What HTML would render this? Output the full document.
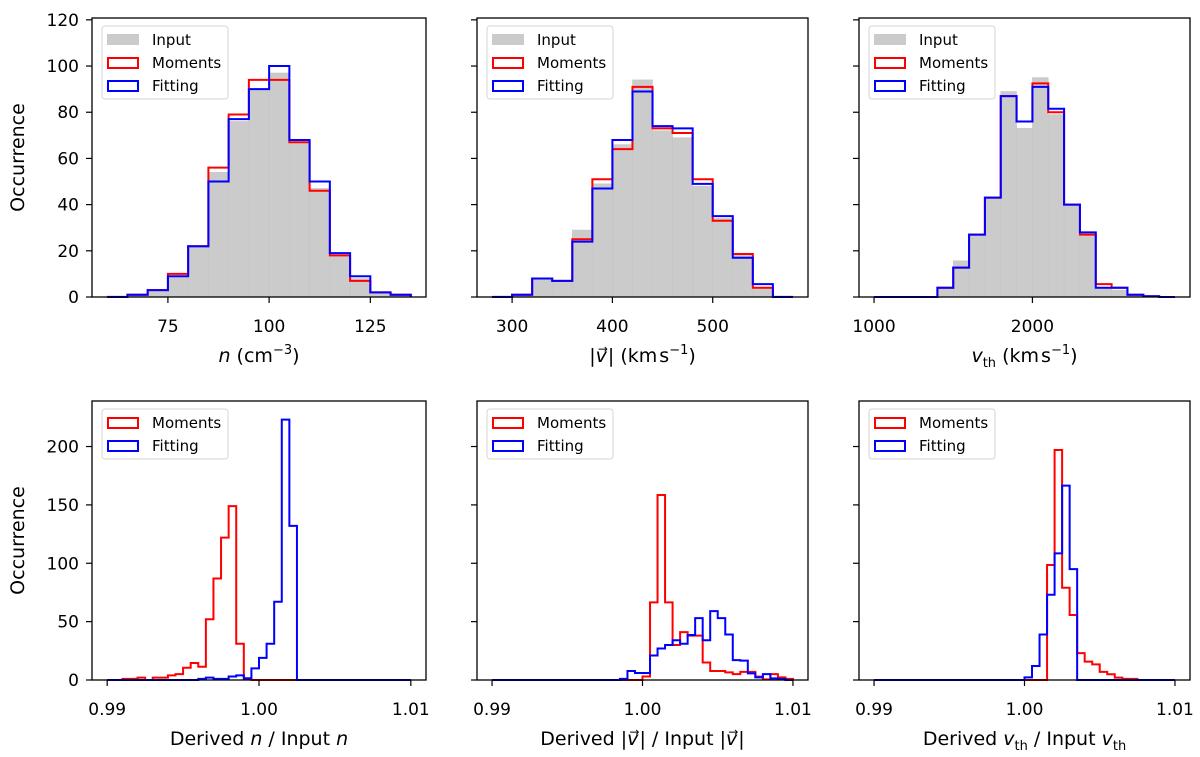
<!DOCTYPE html>
<html><head><meta charset="utf-8"><style>
html,body{margin:0;padding:0;background:#fff;}
svg{display:block;font-family:"DejaVu Sans","Liberation Sans",sans-serif;}
</style></head><body>
<svg id="fig" width="1200" height="757" viewBox="0 0 1200 757" xmlns="http://www.w3.org/2000/svg"></svg>
<script>
// ---------- data ----------
const nInput   = [0.5,1,3,9,22,54,76,90,97,67,47,18,8,2,1];
const nMoments = [0,1,3,10,22,56,79,94,94,67,46,18,7,2,1];
const nFitting = [0,1,3,9,22,50,77,90,100,68,50,19,9,2,1];
const vInput   = [0.5,1,8,7,29,49,66,94,72,69,48,34,18,4,0.5];
const vMoments = [0,1,8,7,25,51,64,91,73,71,51,33,18.6,4,0];
const vFitting = [0,1,8,7,24,47,68,89,74,73,49,35,17,5.6,0];
const tInput   = [0,0,0,0,4,15.7,27,43,89,73,95,79,40,27,4,3,1,0.3,0];
const tMoments = [0,0,0,0,4,12.7,27,43,87,76,92.5,80,40,27,5.6,4,1,0.3,0];
const tFitting = [0,0,0,0,4,12.7,27,43,87,76,91,81.5,40,28,4,4,1,0.3,0];
const rnMoments = [0,0,1,1,2,0,2,2,4,5,10.5,14.6,11.4,52,87,122,149,31,0.5,0,0,0,0,0,0,0,0,0,0,0,0,0,0,0,0,0,0,0,0,0];
const rnFitting = [0,0,0,0,0,0,0,0,0,0,0,0,1,2,1,1,3,4,1.5,10,19,31,67,223,132,0,0,0,0,0,0,0,0,0,0,0,0,0,0,0];
const rvMoments = [0,0,0,0,0,0,0,0,0,0,0,0,0,0,0,0,0,0,0,0,3,66.5,158.5,66.5,30,41,38,38,15,7.7,7.7,6.5,5,7,7,2.9,0.5,5,2.3,1];
const rvFitting = [0,0,0,0,0,0,0,0,0,0,0,0,0,0,0,0,0,1,7.7,6,6,21,27,30,34,31,38.5,53,34,59,53,39,17,16.6,5.7,2.3,5,1.4,1,0];
const rtMoments = [0,0,0,0,0,0,0,0,0,0,0,0,0,0,0,0,0,0,0,0,0,0,0,98.5,197,79,55.7,23,15.7,13.4,7,4.9,2,1,1,0,0,0,0,0];
const rtFitting = [0,0,0,0,0,0,0,0,0,0,0,0,0,0,0,0,0,0,0,0,2.3,12,39,73,108.5,166.5,95,0,0,0,0,0,0,0,0,0,0,0,0,0];
const topYTicks = [0,20,40,60,80,100,120];
const botYTicks = [0,50,100,150,200];
const nXTicks = [75,100,125];
const vXTicks = [300,400,500];
const tXTicks = [1000,2000];
const rXTicks = [0.99,1.00,1.01];
const rXTickLabels = ["0.99","1.00","1.01"];

// ---------- drawing ----------
const svg = document.getElementById('fig');
const NS = 'http://www.w3.org/2000/svg';
function mk(tag, attrs, parent){
  const e = document.createElementNS(NS, tag);
  for (const k in attrs) e.setAttribute(k, attrs[k]);
  (parent||svg).appendChild(e);
  return e;
}
function panel(o){
  const g = mk('g',{});
  
  
  const sx = v => o.x0 + (v - o.xd[0]) / (o.xd[1] - o.xd[0]) * (o.x1 - o.x0);
  const sy = v => o.y1 - (v - o.yd[0]) / (o.yd[1] - o.yd[0]) * (o.y1 - o.y0);
  // gray bars
  if (o.fill){
    o.fill.forEach((v,i)=>{
      const a = o.start + i*o.bw, b = a + o.bw;
      if (v<=0) return;
      const r = mk('rect',{x:sx(a),y:sy(v),width:sx(b)-sx(a),height:sy(0)-sy(v),fill:'#cbcbcb',stroke:'#c4c4c4','stroke-width':0.5},g);
      
      
    });
  }
  o.steps.forEach(s=>{
    let d = 'M'+sx(o.start)+','+sy(0);
    s.vals.forEach((v,i)=>{
      const a = o.start + i*o.bw, b = a + o.bw;
      d += ' L'+sx(a)+','+sy(v)+' L'+sx(b)+','+sy(v);
    });
    d += ' L'+sx(o.start + s.vals.length*o.bw)+','+sy(0);
    const p = mk('path',{d:d,fill:'none',stroke:s.color,'stroke-width':2,'stroke-linejoin':'miter'},g);
    
    
  });
  // frame
  const fr = mk('rect',{x:o.x0,y:o.y0,width:o.x1-o.x0,height:o.y1-o.y0,fill:'none',stroke:'#000','stroke-width':1.3},g);
  
  
  // x ticks
  o.xt.forEach((t,i)=>{
    const x = sx(t);
    mk('line',{x1:x,y1:o.y1,x2:x,y2:o.y1+6,stroke:'#000','stroke-width':1.2},g);
    const tx = mk('text',{x:x,y:o.y1+35,'text-anchor':'middle','font-size':17,fill:'#000'},g);
    tx.textContent = o.xtl ? o.xtl[i] : String(t);
    
    
  });
  o.yt.forEach(t=>{
    const y = sy(t);
    mk('line',{x1:o.x0-6,y1:y,x2:o.x0,y2:y,stroke:'#000','stroke-width':1.2},g);
    if (o.ylab){
      const tx = mk('text',{x:o.x0-13,y:y+6,'text-anchor':'end','font-size':17,fill:'#000'},g);
      tx.textContent = String(t);
      
      
    }
  });
  // legend
  const lg = mk('g',{},g);
  
  
  const ents = (o.fill ? [{label:'Input',color:null}] : []).concat(o.steps);
  const lx = o.x0+10, ly = o.y0+8;
  mk('rect',{x:lx,y:ly,width:126,height:ents.length*23+4,rx:3,fill:'#fff','fill-opacity':0.8,stroke:'#d6d6d6','stroke-width':1},lg);
  ents.forEach((e,i)=>{
    const cy = ly + 14 + i*23;
    if (e.color===null) mk('rect',{x:lx+5,y:cy-6,width:32,height:11,fill:'#cbcbcb'},lg);
    else mk('rect',{x:lx+6,y:cy-5,width:30,height:10,fill:'none',stroke:e.color,'stroke-width':2},lg);
    const t = mk('text',{x:lx+50,y:cy+5,'font-size':15,fill:'#000'},lg);
    t.textContent = e.label;
    
    
  });
  // x label
  const xl = mk('text',{x:(o.x0+o.x1)/2,y:o.y1+65,'text-anchor':'middle','font-size':19,fill:'#000'},g);
  xl.innerHTML = o.xlabel;
  
  
  if (o.ylab){
    const yl = mk('text',{x:0,y:0,'text-anchor':'middle','font-size':19,fill:'#000',transform:'translate(24,'+((o.y0+o.y1)/2)+') rotate(-90)'},g);
    yl.textContent = 'Occurrence';
    
    
  }
}
const R='#ff0000', B='#0000ff';
const TOP={y0:18,y1:297,yd:[0,120.8]}, BOT={y0:401,y1:680,yd:[0,239]};
const P=[[92,426],[477,808],[859,1190]];
const vec = '|<tspan font-style="italic">v</tspan><tspan dx="-9" dy="-9" font-size="12">→</tspan><tspan dy="9">|</tspan>';
const kms = '(km<tspan dx="2">s</tspan><tspan dy="-8" font-size="13">−1</tspan><tspan dy="8">)</tspan>';
const vth = '<tspan font-style="italic">v</tspan><tspan dy="5" font-size="13">th</tspan><tspan dy="-5"> </tspan>';
panel(Object.assign({name:'density-histogram',x0:P[0][0],x1:P[0][1],xd:[56.25,138.75],start:60,bw:5,fill:nInput,
  steps:[{label:'Moments',color:R,vals:nMoments},{label:'Fitting',color:B,vals:nFitting}],xt:nXTicks,yt:topYTicks,ylab:true,
  xlabel:'<tspan font-style="italic">n</tspan> (cm<tspan dy="-8" font-size="13">−3</tspan><tspan dy="8">)</tspan>'},TOP));
panel(Object.assign({name:'speed-histogram',x0:P[1][0],x1:P[1][1],xd:[265,595],start:280,bw:20,fill:vInput,
  steps:[{label:'Moments',color:R,vals:vMoments},{label:'Fitting',color:B,vals:vFitting}],xt:vXTicks,yt:topYTicks,ylab:false,
  xlabel:vec+' '+kms},TOP));
panel(Object.assign({name:'thermal-speed-histogram',x0:P[2][0],x1:P[2][1],xd:[905,2995],start:1000,bw:100,fill:tInput,
  steps:[{label:'Moments',color:R,vals:tMoments},{label:'Fitting',color:B,vals:tFitting}],xt:tXTicks,yt:topYTicks,ylab:false,
  xlabel:vth+kms},TOP));
panel(Object.assign({name:'density-ratio-histogram',x0:P[0][0],x1:P[0][1],xd:[0.989,1.011],start:0.99,bw:0.0005,
  steps:[{label:'Moments',color:R,vals:rnMoments},{label:'Fitting',color:B,vals:rnFitting}],xt:rXTicks,xtl:rXTickLabels,yt:botYTicks,ylab:true,
  xlabel:'Derived <tspan font-style="italic">n</tspan> / Input <tspan font-style="italic">n</tspan>'},BOT));
panel(Object.assign({name:'speed-ratio-histogram',x0:P[1][0],x1:P[1][1],xd:[0.989,1.011],start:0.99,bw:0.0005,
  steps:[{label:'Moments',color:R,vals:rvMoments},{label:'Fitting',color:B,vals:rvFitting}],xt:rXTicks,xtl:rXTickLabels,yt:botYTicks,ylab:false,
  xlabel:'Derived '+vec+' / Input '+vec},BOT));
panel(Object.assign({name:'thermal-speed-ratio-histogram',x0:P[2][0],x1:P[2][1],xd:[0.989,1.011],start:0.99,bw:0.0005,
  steps:[{label:'Moments',color:R,vals:rtMoments},{label:'Fitting',color:B,vals:rtFitting}],xt:rXTicks,xtl:rXTickLabels,yt:botYTicks,ylab:false,
  xlabel:'Derived '+vth+'/ Input '+vth},BOT));
</script>
</body></html>
